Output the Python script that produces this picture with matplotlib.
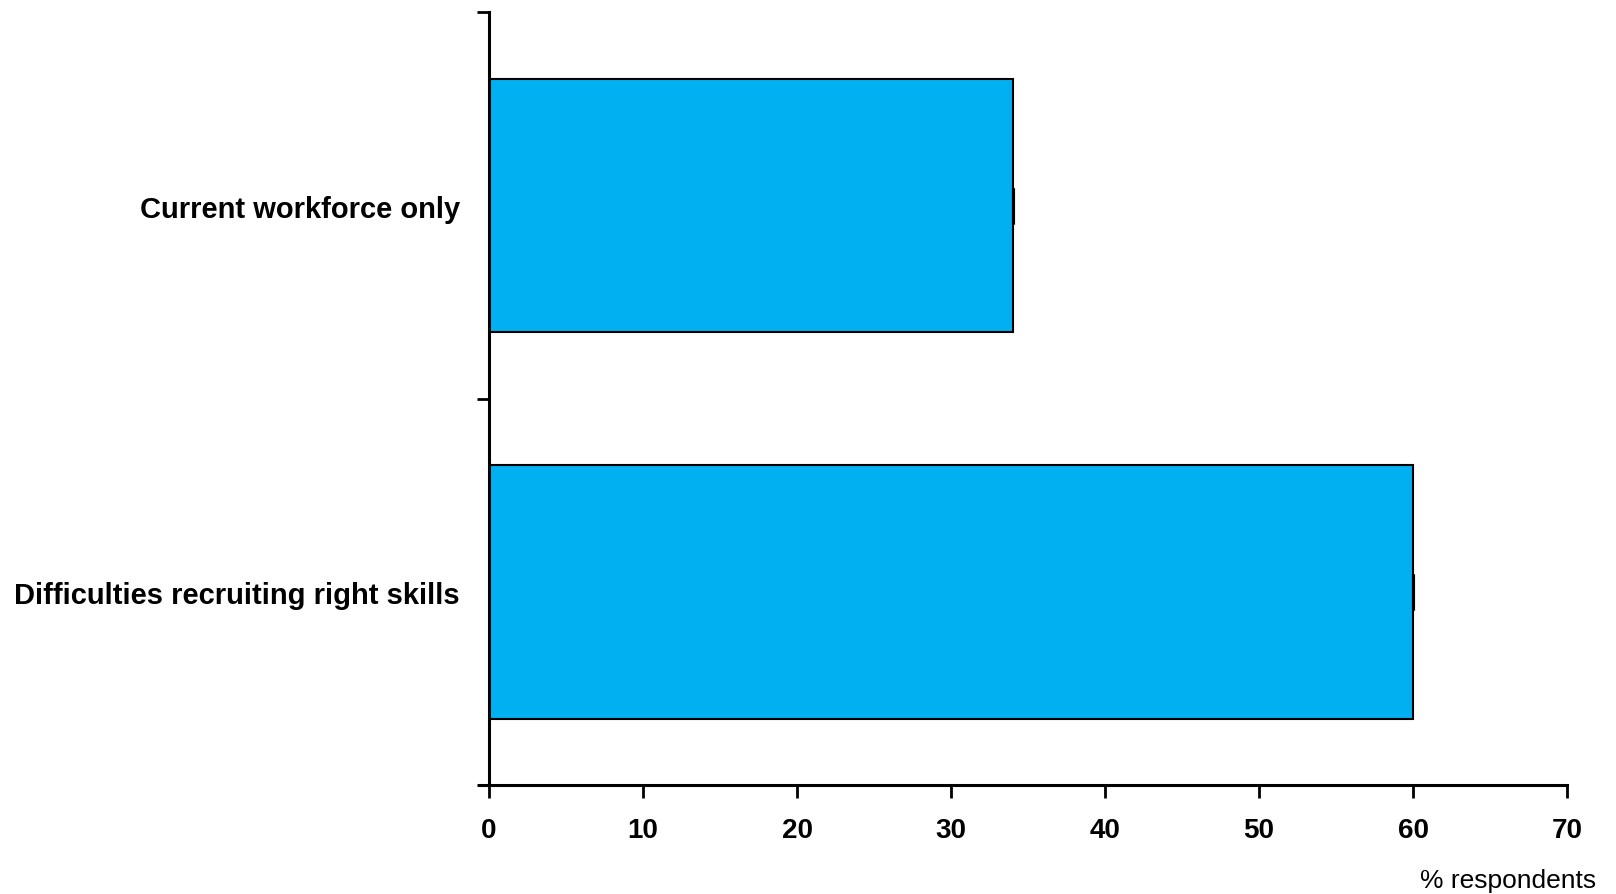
import matplotlib
matplotlib.use("Agg")
import matplotlib.pyplot as plt
from matplotlib.ticker import FixedLocator

categories = ["Difficulties recruiting right skills", "Current workforce only"]
values = [60, 34]
x_ticks = [0, 10, 20, 30, 40, 50, 60, 70]
x_label = "% respondents"

plt.rcParams['font.family'] = ['Liberation Sans', 'DejaVu Sans']

fig = plt.figure(figsize=(16.16, 8.95), dpi=100)
ax = fig.add_axes([0.3026, 0.1215, 0.9697 - 0.3026, 0.9850 - 0.1215])

ypos = list(range(len(categories)))
ax.barh(ypos, values, height=0.655, color="#00B0F0", edgecolor="black", linewidth=1.5, zorder=2)
ax.errorbar(values, ypos, xerr=[0] * len(values), fmt='none', ecolor='black',
            capsize=13, capthick=2.2, elinewidth=0, zorder=3)

ax.set_xlim(0, 70)
ax.set_ylim(-0.5, 1.5)
ax.set_xticks(x_ticks)
ax.set_xticklabels([str(t) for t in x_ticks], fontsize=20, fontweight='bold')
ax.set_yticks(ypos)
ax.set_yticklabels(categories, fontsize=21, fontweight='bold')
ax.yaxis.set_minor_locator(FixedLocator([-0.5, 0.5, 1.5]))
ax.tick_params(axis='y', which='major', length=0, pad=21)
ax.tick_params(axis='y', which='minor', length=9, width=2, direction='out')
ax.tick_params(axis='x', which='major', length=9, width=2, direction='out', pad=14)

for s in ['top', 'right']:
    ax.spines[s].set_visible(False)
for s in ['left', 'bottom']:
    ax.spines[s].set_linewidth(2.2)
ax.spines['bottom'].set_bounds(-0.65, 70)

fig.text(0.9876, 1 - 881 / 895, x_label, ha='right', va='center', fontsize=19)

fig.savefig("out.png", dpi=100)
